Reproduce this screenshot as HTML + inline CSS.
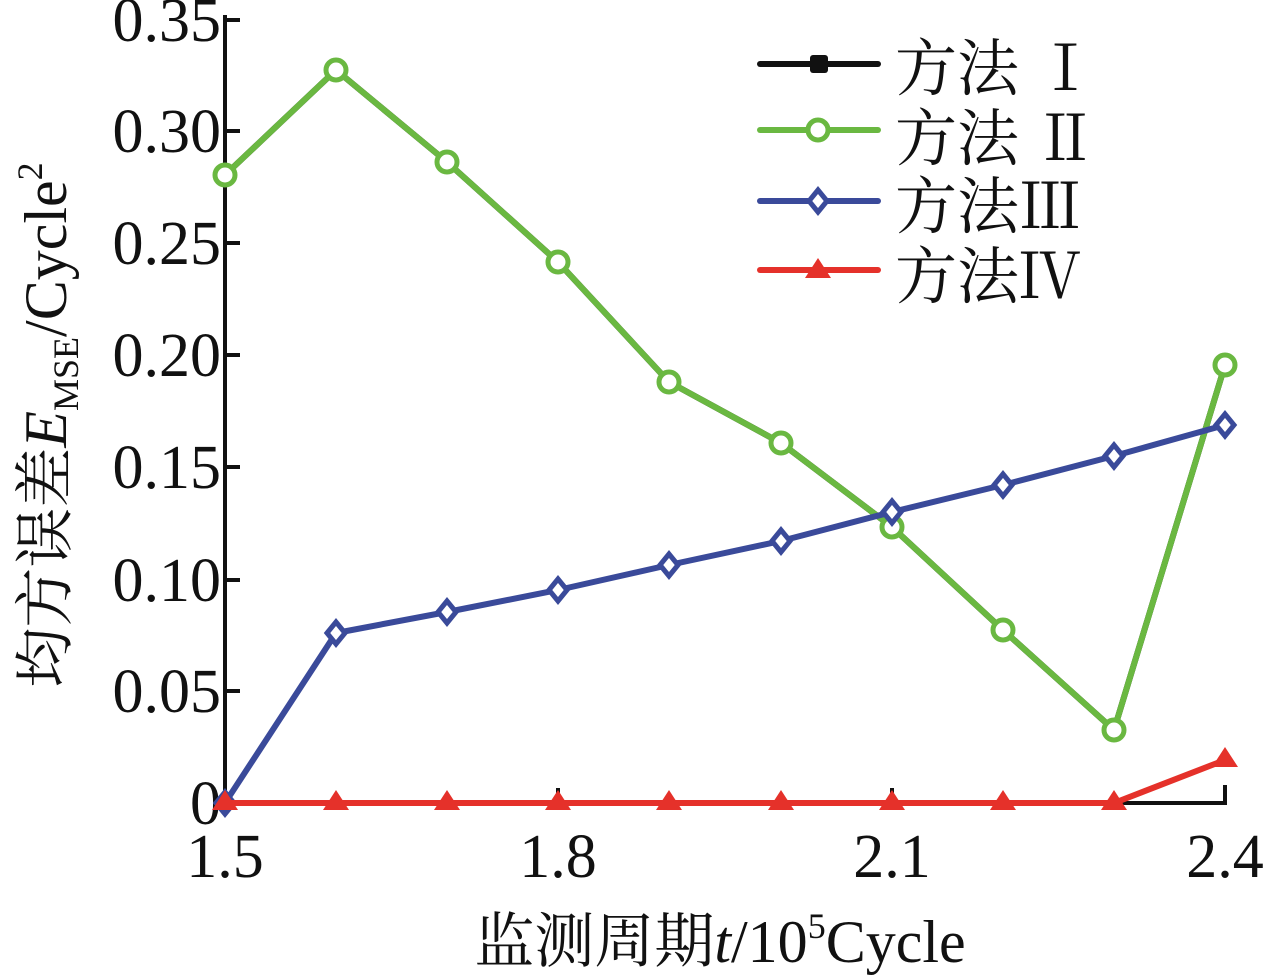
<!DOCTYPE html>
<html><head><meta charset="utf-8"><style>
html,body{margin:0;padding:0;background:#fff;}
svg{display:block;}
text{font-family:"Liberation Serif","Noto Serif CJK SC",serif;fill:#111;}
</style></head><body>
<svg width="1266" height="975" viewBox="0 0 1266 975" xmlns="http://www.w3.org/2000/svg">
<g stroke="#111" stroke-width="4" fill="none">
<line x1="225" y1="15" x2="225" y2="805"/>
<line x1="223" y1="803" x2="1227" y2="803"/>
<line x1="1225" y1="803" x2="1225" y2="785"/>
<line x1="558" y1="803" x2="558" y2="788"/>
<line x1="892" y1="803" x2="892" y2="788"/>
<line x1="225" y1="20" x2="240" y2="20"/>
<line x1="225" y1="131" x2="240" y2="131"/>
<line x1="225" y1="243" x2="240" y2="243"/>
<line x1="225" y1="355" x2="240" y2="355"/>
<line x1="225" y1="467" x2="240" y2="467"/>
<line x1="225" y1="580" x2="240" y2="580"/>
<line x1="225" y1="691" x2="240" y2="691"/>
</g>
<g font-size="62" text-anchor="end">
<text x="221" y="41">0.35</text>
<text x="221" y="152">0.30</text>
<text x="221" y="264">0.25</text>
<text x="221" y="376">0.20</text>
<text x="221" y="488">0.15</text>
<text x="221" y="601">0.10</text>
<text x="221" y="712">0.05</text>
<text x="221" y="824">0</text>
</g>
<g font-size="62" text-anchor="middle">
<text x="225" y="877">1.5</text>
<text x="558" y="877">1.8</text>
<text x="892" y="877">2.1</text>
<text x="1225" y="877">2.4</text>
</g>
<text x="720" y="962" font-size="60" text-anchor="middle">监测周期<tspan font-style="italic">t</tspan>/10<tspan font-size="36" dy="-24">5</tspan><tspan dy="24">Cycle</tspan></text>
<text transform="translate(66,425) rotate(-90)" font-size="60" text-anchor="middle">均方误差<tspan font-style="italic">E</tspan><tspan font-size="36" dy="12">MSE</tspan><tspan dy="-12">/Cycle</tspan><tspan font-size="36" dy="-24">2</tspan></text>

<polyline fill="none" stroke="#111" stroke-width="6" points="225,175 336,70 447,162 558,262 669,382 781,443 892,527 1003,630 1114,730 1225,365"/>
<polyline fill="none" stroke="#6ab841" stroke-width="6" points="225,175 336,70 447,162 558,262 669,382 781,443 892,527 1003,630 1114,730 1225,365"/>
<g fill="#fff" stroke="#6ab841" stroke-width="5">
<circle cx="225" cy="175" r="10"/><circle cx="336" cy="70" r="10"/><circle cx="447" cy="162" r="10"/><circle cx="558" cy="262" r="10"/><circle cx="669" cy="382" r="10"/><circle cx="781" cy="443" r="10"/><circle cx="892" cy="527" r="10"/><circle cx="1003" cy="630" r="10"/><circle cx="1114" cy="730" r="10"/><circle cx="1225" cy="365" r="10"/>
</g>
<polyline fill="none" stroke="#3a4a9a" stroke-width="6" points="225,803 336,633 447,612 558,590 669,565 781,541 892,512 1003,485 1114,456 1225,425"/>
<g fill="#fff" stroke="#3a4a9a" stroke-width="5">
<polygon points="225,792 234,803 225,814 216,803"/>
<polygon points="336,622 345,633 336,644 327,633"/>
<polygon points="447,601 456,612 447,623 438,612"/>
<polygon points="558,579 567,590 558,601 549,590"/>
<polygon points="669,554 678,565 669,576 660,565"/>
<polygon points="781,530 790,541 781,552 772,541"/>
<polygon points="892,501 901,512 892,523 883,512"/>
<polygon points="1003,474 1012,485 1003,496 994,485"/>
<polygon points="1114,445 1123,456 1114,467 1105,456"/>
<polygon points="1225,414 1234,425 1225,436 1216,425"/>
</g>
<polyline fill="none" stroke="#e5312a" stroke-width="6" points="225,803 336,803 447,803 558,803 669,803 781,803 892,803 1003,803 1114,803 1225,760"/>
<g fill="#e5312a">
<polygon points="225,790 238,810 212,810"/><polygon points="336,790 349,810 323,810"/><polygon points="447,790 460,810 434,810"/><polygon points="558,790 571,810 545,810"/><polygon points="669,790 682,810 656,810"/><polygon points="781,790 794,810 768,810"/><polygon points="892,790 905,810 879,810"/><polygon points="1003,790 1016,810 990,810"/><polygon points="1114,790 1127,810 1101,810"/><polygon points="1225,747 1238,767 1212,767"/>
</g>
<g stroke-width="6" stroke-linecap="round">
<line x1="760" y1="64" x2="878" y2="64" stroke="#111"/>
<line x1="760" y1="130" x2="878" y2="130" stroke="#6ab841"/>
<line x1="760" y1="201" x2="878" y2="201" stroke="#3a4a9a"/>
<line x1="760" y1="270" x2="878" y2="270" stroke="#e5312a"/>
</g>
<rect x="810" y="55" width="18" height="18" rx="3" fill="#111"/>
<circle cx="818" cy="130" r="10" fill="#fff" stroke="#6ab841" stroke-width="5"/>
<polygon points="818,190 827,201 818,212 809,201" fill="#fff" stroke="#3a4a9a" stroke-width="5"/>
<polygon points="818,258 831,278 805,278" fill="#e5312a"/>
<g font-size="62">
<text x="895" y="90">方法 Ⅰ</text>
<text x="895" y="160">方法 Ⅱ</text>
<text x="895" y="228">方法Ⅲ</text>
<text x="895" y="298">方法Ⅳ</text>
</g>
</svg>
</body></html>
